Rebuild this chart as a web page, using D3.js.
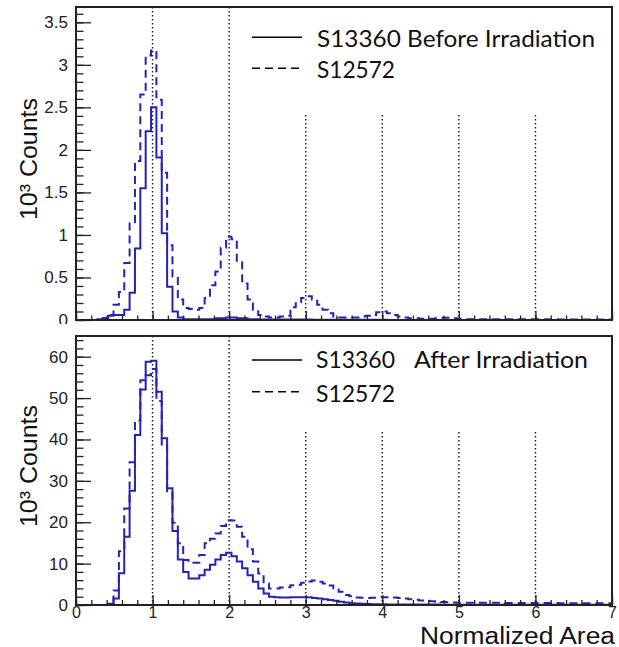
<!DOCTYPE html>
<html>
<head>
<meta charset="utf-8">
<script src="https://cdn.jsdelivr.net/npm/d3@7"></script>
<style>
  html, body { margin: 0; padding: 0; background: #fff; }
  svg { display: block; }
</style>
</head>
<body>
<svg id="chart" width="619" height="647"></svg>
<script>
// ---- data: 100 bins of width 0.07 over Normalized Area 0..7 (values in 10^3 counts) ----
const binEdges = d3.range(0, 101).map(i => +(i * 0.07).toFixed(2));

const beforeS13360 = [
  0, 0, 0, 0, 0.01, 0.02, 0.05, 0.06, 0.06, 0.12,
  0.32, 0.84, 1.55, 2.22, 2.5, 1.91, 1.02, 0.39, 0.1, 0.03,
  0.01, 0.01, 0.01, 0.01, 0.01, 0.01, 0.02, 0.02, 0.03, 0.03,
  0.02, 0.02, 0.01, 0.01, 0.005, 0.005, 0.005, 0.005, 0.005, 0.005,
  0.005, 0.005, 0.005, 0.005, 0.004, 0.004, 0.003, 0.003, 0.002, 0.002,
  0.002, 0.002, 0.002, 0.002, 0.002, 0.002, 0.002, 0.002, 0.001, 0.001,
  0.001, 0.001, 0.001, 0.001, 0.001, 0.001, 0.001, 0.001, 0.001, 0.001,
  0, 0, 0, 0, 0, 0, 0, 0, 0, 0,
  0, 0, 0, 0, 0, 0, 0, 0, 0, 0,
  0, 0, 0, 0, 0, 0, 0, 0, 0, 0
];
const beforeS12572 = [
  0, 0, 0, 0, 0, 0.02, 0.06, 0.18, 0.33, 0.67,
  1.15, 1.87, 2.65, 3.11, 3.17, 2.59, 1.73, 0.88, 0.51, 0.24,
  0.14, 0.13, 0.12, 0.14, 0.26, 0.41, 0.57, 0.85, 0.98, 0.95,
  0.68, 0.43, 0.24, 0.12, 0.06, 0.04, 0.03, 0.03, 0.04, 0.05,
  0.15, 0.21, 0.26, 0.28, 0.24, 0.18, 0.12, 0.08, 0.04, 0.03,
  0.03, 0.03, 0.03, 0.04, 0.05, 0.06, 0.09, 0.1, 0.08, 0.06,
  0.04, 0.03, 0.02, 0.02, 0.015, 0.015, 0.015, 0.02, 0.025, 0.025,
  0.02, 0.015, 0.01, 0.01, 0.01, 0.01, 0.01, 0.01, 0.01, 0.01,
  0.008, 0.008, 0.008, 0.008, 0.008, 0.008, 0.008, 0.008, 0.008, 0.008,
  0.005, 0.005, 0.005, 0.005, 0.005, 0.005, 0.005, 0.005, 0.005, 0.005
];
const afterS13360 = [
  0, 0, 0, 0, 0, 0, 0.3, 1.6, 7.7, 16.5,
  27.6, 41.1, 52.1, 58.8, 59.0, 51.5, 40.3, 28.2, 17.9, 11.0,
  8.0, 6.4, 6.4, 7.2, 8.5, 9.7, 11.0, 12.1, 12.6, 11.8,
  10.5, 8.9, 7.2, 5.6, 4.0, 2.8, 2.0, 1.85, 1.8, 1.8,
  1.85, 1.9, 1.9, 1.85, 1.7, 1.6, 1.4, 1.2, 1.0, 0.8,
  0.6, 0.45, 0.35, 0.3, 0.25, 0.2, 0.2, 0.18, 0.15, 0.15,
  0.14, 0.13, 0.12, 0.12, 0.11, 0.1, 0.1, 0.1, 0.09, 0.09,
  0.08, 0.08, 0.08, 0.07, 0.07, 0.07, 0.07, 0.06, 0.06, 0.06,
  0.06, 0.06, 0.05, 0.05, 0.05, 0.05, 0.05, 0.05, 0.05, 0.05,
  0.04, 0.04, 0.04, 0.04, 0.04, 0.04, 0.04, 0.04, 0.04, 0.04
];
const afterS12572 = [
  0, 0, 0, 0, 0, 0, 0.5, 3.5, 13.0, 23.3,
  34.5, 44.6, 54.3, 55.5, 57.0, 49.3, 38.8, 27.5, 19.9, 14.9,
  10.9, 10.2, 10.2, 12.1, 14.9, 16.0, 17.3, 19.1, 20.5, 20.4,
  18.9, 16.5, 13.5, 10.5, 7.6, 5.2, 4.0, 4.0, 4.2, 4.3,
  4.8, 4.9, 5.4, 5.7, 5.9, 5.6, 5.2, 4.7, 4.0, 3.2,
  2.4, 2.1, 1.8, 1.75, 1.7, 1.75, 1.8, 1.85, 1.9, 1.8,
  1.7, 1.55, 1.4, 1.25, 1.1, 1.0, 0.9, 0.8, 0.7, 0.65,
  0.6, 0.55, 0.55, 0.55, 0.55, 0.55, 0.55, 0.55, 0.55, 0.55,
  0.5, 0.5, 0.5, 0.5, 0.5, 0.5, 0.5, 0.5, 0.5, 0.5,
  0.45, 0.45, 0.45, 0.45, 0.45, 0.45, 0.45, 0.45, 0.45, 0.45
];

const xTicks = [0, 1, 2, 3, 4, 5, 6, 7];
const topYTicks = [0, 0.5, 1, 1.5, 2, 2.5, 3, 3.5];
const botYTicks = [0, 10, 20, 30, 40, 50, 60];
const markerLines = [1, 2, 3, 4, 5, 6];
const topLegend = ["S13360 Before Irradiation", "S12572"];
const botLegend = ["S13360", "After Irradiation", "S12572"];
const yTitle = "10\u00B3 Counts";
const xTitle = "Normalized Area";

// ---- layout ----
const svg = d3.select("#chart");
const histColor = "#2424b4";
const frameColor = "#222";
const axisFont = "'Liberation Sans', Arial, sans-serif";
const legFont = "Lato, 'Open Sans', sans-serif";

const x = d3.scaleLinear().domain([0, 7]).range([76, 612]);

const panels = [
  { y: d3.scaleLinear().domain([0, 3.68]).range([320, 7]), major: topYTicks, minorStep: 0.1,
    fmt: d => d3.format("")(d), s1: beforeS13360, s2: beforeS12572, legTop: 8, legBot: 114,
    legY: [37.3, 68.3], legBase: [46.7, 78.3], titleY: 159, xLabels: false },
  { y: d3.scaleLinear().domain([0, 65]).range([605, 336]), major: botYTicks, minorStep: 2,
    fmt: d => d3.format("")(d), s1: afterS13360, s2: afterS12572, legTop: 337, legBot: 432,
    legY: [360, 391.7], legBase: [368.3, 401.7], titleY: 466, xLabels: true }
];

function stepPath(vals, y) {
  const pts = vals.map((v, i) => [x(binEdges[i]), y(v)]);
  pts.push([x(binEdges[vals.length]), y(vals[vals.length - 1])]);
  return d3.line().curve(d3.curveStepAfter)(pts);
}

panels.forEach((p, pi) => {
  const y = p.y;
  const [y0, y1] = y.range();
  const g = svg.append("g");

  // dotted markers at integer photo-electron positions
  g.selectAll("line.mark").data(markerLines).join("line")
    .attr("x1", d => x(d)).attr("x2", d => x(d))
    .attr("y1", y1).attr("y2", y0)
    .attr("stroke", "#222").attr("stroke-width", 1.5)
    .attr("stroke-dasharray", "1.5,2.5");

  // histograms
  g.append("path").attr("d", stepPath(p.s2, y))
    .attr("fill", "none").attr("stroke", histColor).attr("stroke-width", 2)
    .attr("stroke-dasharray", "8,5");
  g.append("path").attr("d", stepPath(p.s1, y))
    .attr("fill", "none").attr("stroke", histColor).attr("stroke-width", 2);

  // legend box (white, covers dotted lines)
  g.append("rect").attr("x", 242).attr("y", p.legTop).attr("width", 369)
    .attr("height", p.legBot - p.legTop).attr("fill", "#fff");
  g.append("line").attr("x1", 252).attr("x2", 302).attr("y1", p.legY[0]).attr("y2", p.legY[0])
    .attr("stroke", "#000").attr("stroke-width", 1.6);
  g.append("line").attr("x1", 252).attr("x2", 302).attr("y1", p.legY[1]).attr("y2", p.legY[1])
    .attr("stroke", "#000").attr("stroke-width", 1.6).attr("stroke-dasharray", "8,5");
  const legText = (txt, xx, yy, len) => g.append("text").attr("x", xx).attr("y", yy)
    .attr("font-family", legFont).attr("font-size", 23).attr("fill", "#111")
    .attr("textLength", len).attr("lengthAdjust", "spacingAndGlyphs").text(txt);
  if (pi === 0) {
    legText(topLegend[0], 317, p.legBase[0], 278);
    legText(topLegend[1], 317, p.legBase[1], 78);
  } else {
    legText(botLegend[0], 316, p.legBase[0], 79);
    legText(botLegend[1], 414, p.legBase[0], 174);
    legText(botLegend[2], 316, p.legBase[1], 79);
  }

  // y axis (inward ticks)
  const minorY = d3.range(0, y.domain()[1] + 1e-9, p.minorStep).filter(v => v <= y.domain()[1]);
  g.append("g").attr("transform", `translate(${x(0)},0)`)
    .call(d3.axisLeft(y).tickValues(minorY).tickSize(-7.5).tickFormat(""))
    .call(a => a.select(".domain").remove())
    .call(a => a.selectAll("line").attr("stroke", frameColor).attr("stroke-width", 1.3));
  g.append("g").attr("transform", `translate(${x(0)},0)`)
    .call(d3.axisLeft(y).tickValues(p.major).tickSize(-15).tickPadding(8).tickFormat(p.fmt))
    .call(a => a.select(".domain").remove())
    .call(a => a.selectAll("line").attr("stroke", frameColor).attr("stroke-width", 1.3))
    .call(a => a.selectAll("text").attr("font-family", axisFont).attr("font-size", 17).attr("fill", "#222"));

  // x axis (inward ticks)
  const minorX = d3.range(0, 7.0001, 0.2);
  const majLen = pi === 0 ? 9 : 10, minLen = pi === 0 ? 4.5 : 5;
  g.append("g").attr("transform", `translate(0,${y0})`)
    .call(d3.axisBottom(x).tickValues(minorX).tickSize(-minLen).tickFormat(""))
    .call(a => a.select(".domain").remove())
    .call(a => a.selectAll("line").attr("stroke", frameColor).attr("stroke-width", 1.3));
  g.append("g").attr("transform", `translate(0,${y0})`)
    .call(d3.axisBottom(x).tickValues(xTicks).tickSize(-majLen).tickPadding(2)
      .tickFormat(p.xLabels ? d3.format("") : ""))
    .call(a => a.select(".domain").remove())
    .call(a => a.selectAll("line").attr("stroke", frameColor).attr("stroke-width", 1.3))
    .call(a => a.selectAll("text").attr("font-family", axisFont).attr("font-size", 16).attr("fill", "#222"));

  // frame
  g.append("rect").attr("x", x(0)).attr("y", y1).attr("width", x(7) - x(0)).attr("height", y0 - y1)
    .attr("fill", "none").attr("stroke", frameColor).attr("stroke-width", 2);

  // y title
  g.append("text").attr("transform", `translate(37,${p.titleY}) rotate(-90)`)
    .attr("text-anchor", "middle").attr("font-family", axisFont).attr("font-size", 24)
    .attr("fill", "#111").attr("textLength", 122).attr("lengthAdjust", "spacingAndGlyphs")
    .text(yTitle);

  if (pi === 0) {
    // gap between pads hides the lower half of the top "0" label
    svg.append("rect").attr("x", 0).attr("y", 324).attr("width", 619).attr("height", 11).attr("fill", "#fff");
  }
});

// x title
svg.append("text").attr("x", 615).attr("y", 643.5).attr("text-anchor", "end")
  .attr("font-family", axisFont).attr("font-size", 23).attr("fill", "#111")
  .attr("textLength", 195).attr("lengthAdjust", "spacingAndGlyphs").text(xTitle);
</script>
</body>
</html>
